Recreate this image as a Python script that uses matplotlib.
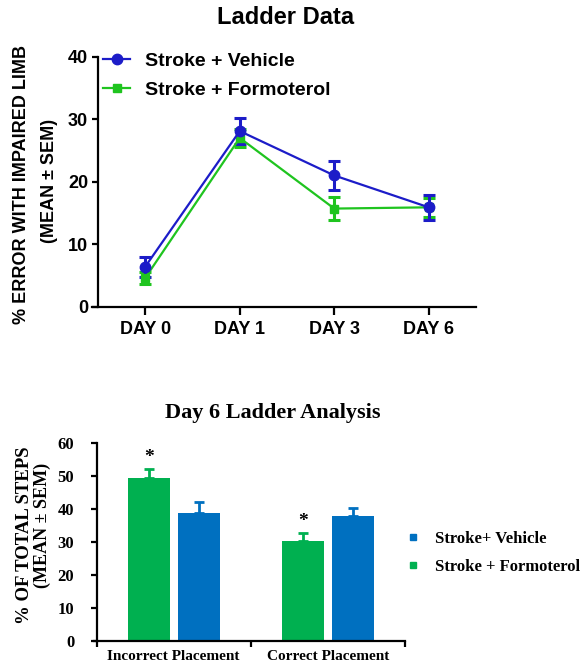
import matplotlib.pyplot as plt
import numpy as np
from matplotlib.lines import Line2D

# Ladder data (top panel)
days = ['DAY 0', 'DAY 1', 'DAY 3', 'DAY 6']
vehicle_mean = [6.4, 28.1, 21.0, 15.9]
vehicle_sem = [1.6, 2.1, 2.3, 2.0]
formo_mean = [4.6, 27.0, 15.7, 15.9]
formo_sem = [1.0, 1.5, 1.9, 1.5]

# Day 6 ladder analysis (bottom panel)
placements = ['Incorrect Placement', 'Correct Placement']
formo_pct = [49.4, 30.3]
formo_pct_sem = [2.8, 2.4]
vehicle_pct = [38.8, 37.9]
vehicle_pct_sem = [3.3, 2.4]
significant = [True, True]

W, H = 582, 666
fig = plt.figure(figsize=(W / 100, H / 100), dpi=100)

sans = 'Liberation Sans'
serif = 'Liberation Serif'
line_blue = '#1c1cc8'
line_green = '#1fc41f'
bar_green = '#00b050'
bar_blue = '#0070c0'

# ---------- top: line chart ----------
ax1 = fig.add_axes([92.3 / W, 1 - 306.7 / H, 383.7 / W, 250 / H])
x = np.arange(len(days))
ax1.errorbar(x, formo_mean, yerr=formo_sem, color=line_green, marker='s', markersize=6,
             lw=1.6, elinewidth=2.2, capsize=4.5, capthick=2.2)
ax1.errorbar(x, vehicle_mean, yerr=vehicle_sem, color=line_blue, marker='o', markersize=7.5,
             lw=1.6, elinewidth=2.2, capsize=4.5, capthick=2.2)
ax1.set_xlim(-0.56, 3.5)
ax1.set_ylim(0, 40)
ax1.spines['left'].set_position(('data', -0.5))
for s in ['top', 'right']:
    ax1.spines[s].set_visible(False)
for s in ['left', 'bottom']:
    ax1.spines[s].set_linewidth(1.6)
ax1.set_xticks(x)
ax1.set_xticklabels(days, fontfamily=sans, fontweight='bold', fontsize=13)
ax1.set_yticks([0, 10, 20, 30, 40])
ax1.set_yticklabels(['0', '10', '20', '30', '40'], fontfamily=sans, fontweight='bold', fontsize=13)
ax1.tick_params(axis='x', length=6, width=1.6, pad=4)
ax1.tick_params(axis='y', length=4, width=1.6, pad=3)
top_handles = [Line2D([], [], color=line_blue, marker='o', markersize=7.5, lw=1.6),
               Line2D([], [], color=line_green, marker='s', markersize=6, lw=1.6)]
ax1.legend(top_handles, ['Stroke + Vehicle', 'Stroke + Formoterol'], loc='upper left',
           frameon=False, bbox_to_anchor=(103 / W, 1 - 52 / H), bbox_transform=fig.transFigure,
           borderpad=0, borderaxespad=0, handlelength=1.4, handletextpad=0.75,
           labelspacing=0.6, prop={'family': sans, 'weight': 'bold', 'size': 14})
fig.text(286 / W, 1 - 18 / H, 'Ladder Data', ha='center', va='center',
         fontfamily=sans, fontweight='bold', fontsize=17)
fig.text(21.7 / W, 1 - 184.5 / H, '% ERROR WITH IMPAIRED LIMB', rotation=90, ha='center',
         va='center', fontfamily=sans, fontweight='bold', fontsize=13)
fig.text(50 / W, 1 - 180.5 / H, '(MEAN \u00b1 SEM)', rotation=90, ha='center',
         va='center', fontfamily=sans, fontweight='bold', fontsize=13)

# ---------- bottom: bar chart ----------
ax2 = fig.add_axes([93.5 / W, 1 - 640.7 / H, 311.6 / W, 197.4 / H])
centers = np.arange(len(placements)) + 0.5
bw = 0.272
off = 0.161
ax2.bar(centers - off, formo_pct, width=bw, color=bar_green)
ax2.bar(centers + off, vehicle_pct, width=bw, color=bar_blue)
ax2.errorbar(centers - off, formo_pct, yerr=[np.zeros(len(formo_pct)), formo_pct_sem],
             fmt='none', ecolor=bar_green, elinewidth=2, capsize=3.5, capthick=2)
ax2.errorbar(centers + off, vehicle_pct, yerr=[np.zeros(len(vehicle_pct)), vehicle_pct_sem],
             fmt='none', ecolor=bar_blue, elinewidth=2, capsize=3.5, capthick=2)
for c, m, e, sig in zip(centers, formo_pct, formo_pct_sem, significant):
    if sig:
        ax2.text(c - off, m + e + 3.4, '*', ha='center', va='center',
                 fontfamily=serif, fontweight='bold', fontsize=14)
ax2.set_xlim(-0.02, 2)
ax2.set_ylim(0, 60)
ax2.spines['left'].set_position(('data', 0))
for s in ['top', 'right']:
    ax2.spines[s].set_visible(False)
for s in ['left', 'bottom']:
    ax2.spines[s].set_linewidth(1.6)
ax2.set_xticks([0, 1, 2])
ax2.set_xticklabels([])
ax2.set_xticks(centers, minor=True)
ax2.set_xticklabels(placements, minor=True, fontfamily=serif, fontweight='bold', fontsize=11)
ax2.tick_params(axis='x', which='major', length=4, width=1.6)
ax2.tick_params(axis='x', which='minor', length=0, pad=7)
ax2.set_yticks(range(0, 61, 10))
ax2.set_yticklabels([str(v) for v in range(0, 61, 10)], fontfamily=serif,
                    fontweight='bold', fontsize=12)
ax2.tick_params(axis='y', length=4, width=1.6, pad=12)

leg_handles = [Line2D([], [], ls='none', marker='s', markersize=5, color=bar_blue),
               Line2D([], [], ls='none', marker='s', markersize=5, color=bar_green)]
ax2.legend(leg_handles, ['Stroke+ Vehicle', 'Stroke + Formoterol'], loc='upper left',
           frameon=False, bbox_to_anchor=(405 / W, 1 - 531 / H), bbox_transform=fig.transFigure,
           borderpad=0, borderaxespad=0, handlelength=1.0, handletextpad=0.8,
           labelspacing=0.7, prop={'family': serif, 'weight': 'bold', 'size': 12})
fig.text(273 / W, 1 - 412.7 / H, 'Day 6 Ladder Analysis', ha='center', va='center',
         fontfamily=serif, fontweight='bold', fontsize=16)
fig.text(25 / W, 1 - 535 / H, '% OF TOTAL STEPS', rotation=90, ha='center', va='center',
         fontfamily=serif, fontweight='bold', fontsize=13.5)
fig.text(42.7 / W, 1 - 525 / H, '(MEAN \u00b1 SEM)', rotation=90, ha='center', va='center',
         fontfamily=serif, fontweight='bold', fontsize=13)

fig.savefig('out.png', dpi=100)
